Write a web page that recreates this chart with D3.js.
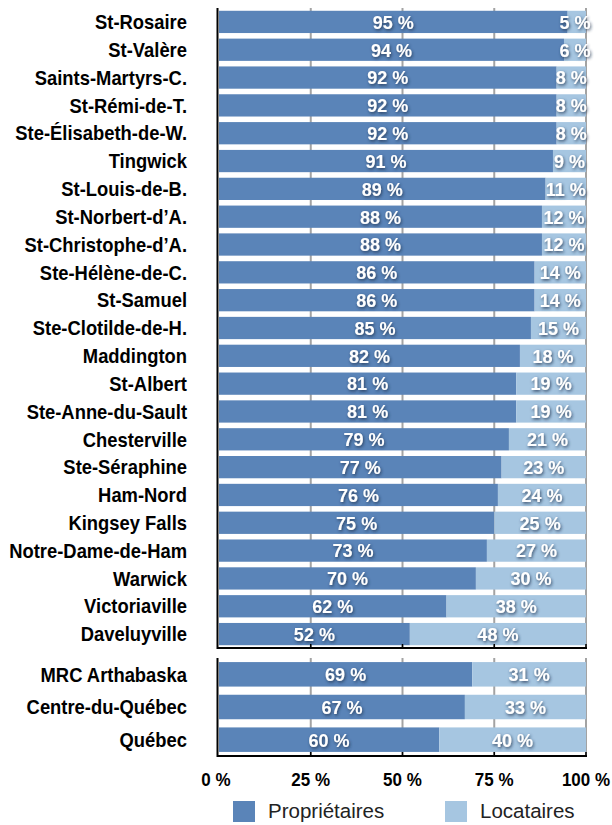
<!DOCTYPE html>
<html>
  <head>
    <meta charset="utf-8">
    <title></title>
    <script src="https://cdn.jsdelivr.net/npm/d3@7"></script>
    <style>
      body{margin:0;background:#fff;}
      text{font-family:"Liberation Sans",Arial,sans-serif;font-weight:bold;}
    </style>
  </head>
  <body>
    <script>
    // municipalités
    let towns=['St-Rosaire','St-Valère','Saints-Martyrs-C.','St-Rémi-de-T.','Ste-Élisabeth-de-W.','Tingwick',
      'St-Louis-de-B.','St-Norbert-d’A.','St-Christophe-d’A.','Ste-Hélène-de-C.','St-Samuel','Ste-Clotilde-de-H.',
      'Maddington','St-Albert','Ste-Anne-du-Sault','Chesterville','Ste-Séraphine','Ham-Nord','Kingsey Falls',
      'Notre-Dame-de-Ham','Warwick','Victoriaville','Daveluyville'];
    let townOwners=[95,94,92,92,92,91,89,88,88,86,86,85,82,81,81,79,77,76,75,73,70,62,52];
    let townRenters=[5,6,8,8,8,9,11,12,12,14,14,15,18,19,19,21,23,24,25,27,30,38,48];

    // territoires de comparaison
    let regions=['MRC Arthabaska','Centre-du-Québec','Québec'];
    let regionOwners=[69,67,60];
    let regionRenters=[31,33,40];

    let ticks=[0,25,50,75,100];
    let seriesNames=['Propriétaires','Locataires'];
    let colors=['#5a84b8','#a6c6e1'];

    let W=612, H=825;
    let svg=d3.select('body').append('svg').attr('width', W).attr('height', H);

    let defs=svg.append('defs');
    let f=defs.append('filter').attr('id','shadow').attr('x','-30%').attr('y','-40%').attr('width','160%').attr('height','180%');
    f.append('feDropShadow').attr('dx',1).attr('dy',1.5).attr('stdDeviation',1.7)
      .attr('flood-color','#1a3050').attr('flood-opacity',0.85);

    let x=d3.scaleLinear().domain([0,100]).range([219,586]);

    function panel(names, owners, renters, y0, y1, padIn, padOut){
      let rows=names.map((n,i)=>({name:n, owners:owners[i], renters:renters[i]}));
      let y=d3.scaleBand().domain(names).range([y0,y1]).paddingInner(padIn).paddingOuter(padOut);
      let g=svg.append('g');

      // grille
      g.selectAll('.grid').data(ticks.slice(1)).enter().append('line')
        .attr('x1', d=>x(d)).attr('x2', d=>x(d))
        .attr('y1', y0).attr('y2', y1)
        .attr('stroke', '#a3a3a3').attr('stroke-width', 2);

      let stack=d3.stack().keys(['owners','renters']);
      let layers=stack(rows);

      layers.forEach((layer,k)=>{
        g.append('g').selectAll('rect').data(layer).enter().append('rect')
          .attr('x', d=>x(d[0]))
          .attr('y', d=>y(d.data.name))
          .attr('width', d=>x(d[1])-x(d[0]))
          .attr('height', y.bandwidth())
          .attr('fill', colors[k]);
      });

      layers.forEach((layer,k)=>{
        g.append('g').selectAll('text').data(layer).enter().append('text')
          .attr('transform', d=>`translate(${Math.min(x((d[0]+d[1])/2), 575)},${y(d.data.name)+y.bandwidth()/2}) scale(0.95,1)`)
          .attr('dy', '0.36em')
          .attr('text-anchor', 'middle')
          .attr('fill', '#fff')
          .attr('font-size', 19)
          .attr('filter', 'url(#shadow)')
          .text(d=>(d[1]-d[0])+'\u00a0%');
      });

      // noms
      g.append('g').selectAll('text').data(names).enter().append('text')
        .attr('transform', d=>`translate(187,${y(d)+y.bandwidth()/2}) scale(0.92,1)`)
        .attr('dy', '0.36em')
        .attr('text-anchor', 'end')
        .attr('fill', '#000')
        .attr('font-size', 20)
        .text(d=>d);

      // axes
      g.append('line').attr('x1', 217.5).attr('x2', 217.5).attr('y1', y0).attr('y2', y1+1)
        .attr('stroke', '#000').attr('stroke-width', 2);
      g.append('line').attr('x1', 217).attr('x2', 587).attr('y1', y1).attr('y2', y1)
        .attr('stroke', '#000').attr('stroke-width', 2);
      g.selectAll('.tk').data(ticks.slice(1)).enter().append('line')
        .attr('x1', d=>x(d)).attr('x2', d=>x(d))
        .attr('y1', y1-4).attr('y2', y1+1)
        .attr('stroke', '#000').attr('stroke-width', 1.5);
    }

    panel(towns, townOwners, townRenters, 8, 648, 0.2, 0.1);
    panel(regions, regionOwners, regionRenters, 658, 756, 0.25, 0.125);

    // graduations
    svg.append('g').selectAll('text').data(ticks).enter().append('text')
      .attr('transform', d=>`translate(${x(d)-(d===0?3:0)},786) scale(0.92,1)`)
      .attr('text-anchor', 'middle')
      .attr('font-size', 18.5)
      .text(d=>d+'\u00a0%');

    // légende
    let legX=[233,445];
    let leg=svg.append('g').selectAll('g').data(seriesNames).enter().append('g')
      .attr('transform', (d,i)=>`translate(${legX[i]},801)`);
    leg.append('rect').attr('width', 22).attr('height', 21).attr('fill', (d,i)=>colors[i]);
    leg.append('text').attr('x', 35).attr('y', 17)
      .style('font-weight', 'normal')
      .attr('font-size', 20.5)
      .attr('fill', '#222')
      .text(d=>d);
    </script>
  </body>
</html>
